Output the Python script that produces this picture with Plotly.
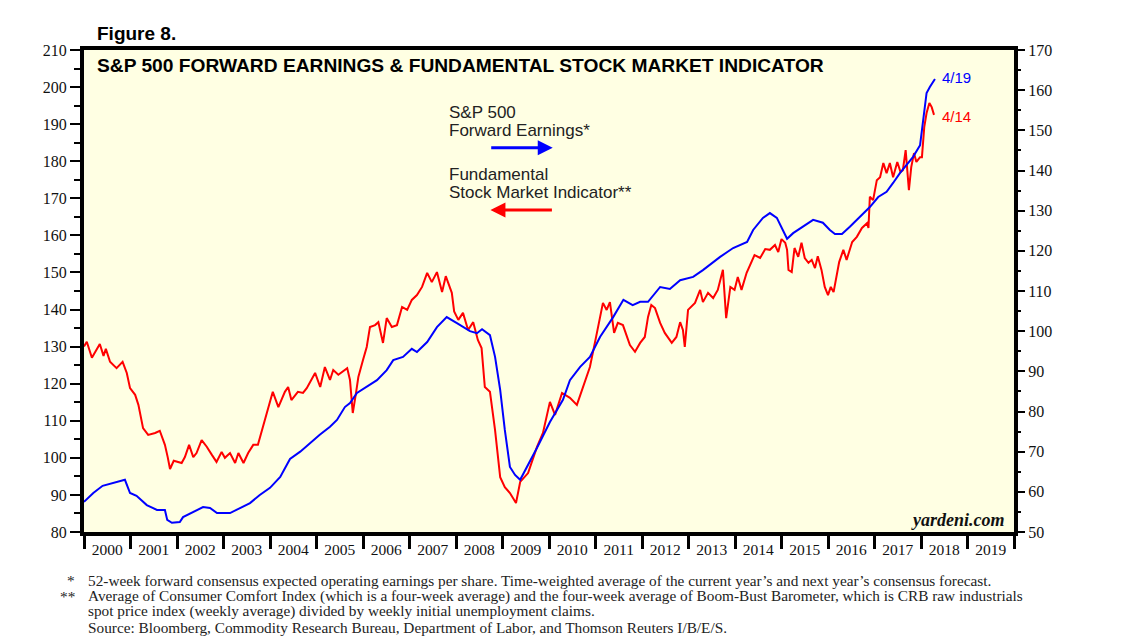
import plotly.graph_objects as go

# Fundamental Stock Market Indicator (left axis), decimal years
red_t = [2000.00, 2000.06, 2000.17, 2000.27, 2000.34, 2000.42, 2000.47, 2000.56, 2000.70, 2000.83,
         2000.92, 2000.99, 2001.10, 2001.17, 2001.27, 2001.38, 2001.53, 2001.63, 2001.74, 2001.80,
         2001.85, 2001.93, 2002.00, 2002.10, 2002.17, 2002.26, 2002.35, 2002.42, 2002.53, 2002.64,
         2002.75, 2002.85, 2002.96, 2003.03, 2003.14, 2003.25, 2003.32, 2003.43, 2003.53, 2003.64,
         2003.74, 2003.85, 2003.96, 2004.06, 2004.18, 2004.32, 2004.39, 2004.46, 2004.60, 2004.71,
         2004.79, 2004.90, 2004.97, 2005.08, 2005.18, 2005.29, 2005.36, 2005.47, 2005.61, 2005.66,
         2005.72, 2005.78, 2005.85, 2005.90, 2006.00, 2006.08, 2006.15, 2006.26, 2006.33, 2006.43,
         2006.51, 2006.62, 2006.73, 2006.84, 2006.95, 2007.05, 2007.16, 2007.27, 2007.38, 2007.48,
         2007.59, 2007.70, 2007.78, 2007.91, 2007.96, 2008.05, 2008.15, 2008.26, 2008.37, 2008.47,
         2008.55, 2008.62, 2008.73, 2008.84, 2008.95, 2009.05, 2009.16, 2009.29, 2009.38, 2009.55,
         2009.74, 2009.87, 2010.02, 2010.13, 2010.28, 2010.45, 2010.60, 2010.73, 2010.88, 2011.03,
         2011.16, 2011.24, 2011.31, 2011.40, 2011.48, 2011.59, 2011.74, 2011.85, 2011.96, 2012.06,
         2012.13, 2012.20, 2012.28, 2012.39, 2012.49, 2012.64, 2012.74, 2012.82, 2012.88, 2012.92,
         2012.99, 2013.14, 2013.25, 2013.31, 2013.42, 2013.53, 2013.63, 2013.74, 2013.81, 2013.90,
         2013.99, 2014.06, 2014.14, 2014.25, 2014.35, 2014.42, 2014.54, 2014.65, 2014.75, 2014.86,
         2014.93, 2015.00, 2015.08, 2015.12, 2015.15, 2015.22, 2015.28, 2015.36, 2015.43, 2015.50,
         2015.58, 2015.65, 2015.72, 2015.78, 2015.86, 2015.93, 2016.00, 2016.06, 2016.12, 2016.19,
         2016.24, 2016.33, 2016.40, 2016.52, 2016.62, 2016.73, 2016.84, 2016.87, 2016.90, 2016.97,
         2017.05, 2017.12, 2017.19, 2017.26, 2017.33, 2017.40, 2017.49, 2017.56, 2017.61, 2017.67,
         2017.71, 2017.74, 2017.79, 2017.85, 2017.90, 2017.98, 2018.02, 2018.07, 2018.12, 2018.18,
         2018.23, 2018.28]
red_v = [130.0, 131.3, 127.0, 129.1, 130.7, 127.5, 129.4, 125.9, 124.2, 125.9,
         122.9, 118.8, 117.0, 114.3, 108.0, 106.2, 106.7, 107.3, 103.5, 100.2,
         97.0, 99.2, 98.9, 98.6, 100.2, 103.5, 100.2, 101.3, 104.8, 103.0,
         100.8, 98.9, 101.6, 100.0, 101.3, 98.6, 101.3, 98.6, 101.3, 103.5,
         103.5, 108.3, 112.9, 117.8, 113.7, 117.8, 119.1, 115.6, 117.8, 117.5,
         118.8, 121.5, 122.9, 119.1, 124.5, 121.0, 123.7, 122.4, 123.7, 124.2,
         121.0, 112.1, 117.5, 121.8, 126.4, 129.9, 135.3, 135.8, 136.6, 131.0,
         137.7, 135.3, 135.8, 140.7, 139.9, 142.6, 143.9, 146.1, 149.9, 147.4,
         150.1, 144.7, 149.0, 144.5, 139.5, 137.2, 139.1, 134.5, 136.6, 131.8,
         129.6, 119.1, 117.8, 107.5, 94.8, 92.1, 90.5, 87.8, 93.5, 95.9,
         102.9, 106.7, 115.1, 111.6, 117.5, 116.2, 114.3, 119.1, 124.5, 133.7,
         141.8, 139.9, 142.0, 133.7, 136.4, 135.8, 130.4, 128.6, 131.0, 132.6,
         138.0, 141.2, 140.4, 136.4, 133.7, 131.0, 132.6, 136.6, 134.5, 129.9,
         139.9, 141.8, 145.3, 142.0, 144.5, 143.1, 145.3, 150.7, 137.7, 146.1,
         145.3, 148.8, 145.3, 149.9, 152.6, 154.7, 153.9, 156.3, 156.1, 157.4,
         155.5, 159.0, 158.0, 156.1, 150.7, 150.1, 156.6, 154.2, 158.0, 153.9,
         152.6, 153.4, 151.2, 154.4, 150.7, 146.1, 143.9, 146.1, 144.7, 149.3,
         152.8, 156.1, 153.4, 158.2, 159.6, 162.0, 163.3, 162.0, 170.4, 169.5,
         174.9, 175.7, 179.5, 176.8, 179.5, 175.7, 179.8, 177.1, 177.6, 183.0,
         177.6, 172.2, 178.4, 182.2, 179.8, 181.1, 181.1, 189.2, 193.0, 195.7,
         194.6, 192.5]

# S&P 500 forward earnings (right axis)
blue_t = [2000.00, 2000.20, 2000.40, 2000.62, 2000.88, 2000.99, 2001.13, 2001.35, 2001.57, 2001.74,
          2001.79, 2001.89, 2002.06, 2002.13, 2002.35, 2002.56, 2002.71, 2002.86, 2003.14, 2003.35,
          2003.57, 2003.78, 2004.00, 2004.22, 2004.43, 2004.65, 2004.86, 2005.07, 2005.29, 2005.44,
          2005.61, 2005.72, 2005.87, 2006.15, 2006.30, 2006.51, 2006.65, 2006.86, 2007.05, 2007.16,
          2007.38, 2007.59, 2007.80, 2008.02, 2008.15, 2008.30,
          2008.45, 2008.56, 2008.73, 2008.84, 2008.95, 2009.05, 2009.16, 2009.27, 2009.38, 2009.53,
          2009.74, 2010.02, 2010.30, 2010.45, 2010.67, 2010.88, 2011.10, 2011.38, 2011.60, 2011.80,
          2011.96, 2012.13, 2012.39, 2012.60, 2012.82, 2013.10, 2013.31, 2013.68, 2013.96, 2014.26,
          2014.39, 2014.60, 2014.75, 2014.90, 2015.00, 2015.12, 2015.25, 2015.46, 2015.68, 2015.89,
          2016.04, 2016.15, 2016.30, 2016.47, 2016.69, 2016.90, 2017.08, 2017.26, 2017.40, 2017.55,
          2017.69, 2017.83, 2017.98, 2018.05, 2018.12, 2018.19, 2018.30]
blue_v = [57.5, 59.7, 61.5, 62.2, 63.0, 59.7, 59.0, 56.7, 55.5, 55.5,
          53.0, 52.3, 52.5, 53.7, 55.0, 56.2, 56.0, 54.7, 54.7, 56.0,
          57.2, 59.2, 61.0, 63.7, 68.2, 70.0, 72.2, 74.2, 76.2, 77.9,
          81.1, 82.1, 84.6, 86.6, 87.8, 90.3, 92.8, 93.6, 95.6, 94.8,
          97.3, 101.0, 103.5, 102.0, 101.0, 100.0,
          99.5, 100.5, 99.0, 93.6, 85.4, 75.4, 66.2, 64.2, 63.0, 66.2,
          70.9, 77.4, 82.9, 87.8, 91.1, 93.6, 98.6, 103.5, 107.8, 106.5,
          107.3, 107.3, 111.0, 110.5, 112.7, 113.5, 115.2, 118.5, 120.7, 122.2,
          125.2, 128.2, 129.4, 128.2, 126.0, 123.0, 124.4, 126.0, 127.7, 127.0,
          125.2, 124.2, 124.2, 126.0, 128.4, 130.9, 133.4, 134.7, 136.9, 139.4,
          141.4, 143.4, 146.3, 153.3, 159.3, 160.8, 162.8]

years = list(range(2000, 2020))
year_labels = [str(y) for y in years]

footnotes = [
    "52-week forward consensus expected operating earnings per share. Time-weighted average of the "
    "current year\u2019s and next year\u2019s consensus forecast.",
    "Average of Consumer Comfort Index (which is a four-week average) and the four-week average of "
    "Boom-Bust Barometer, which is CRB raw industrials",
    "spot price index (weekly average) divided by weekly initial unemployment claims.",
    "Source: Bloomberg, Commodity Research Bureau, Department of Labor, and Thomson Reuters I/B/E/S.",
]
foot_marks = ["*", "**", "", ""]

serif = "Times New Roman, Liberation Serif, serif"
sans = "Arial, Liberation Sans, sans-serif"

fig = go.Figure()
fig.add_trace(go.Scatter(x=red_t, y=red_v, mode="lines", line=dict(color="#ff0000", width=2),
                         yaxis="y", showlegend=False))
fig.add_trace(go.Scatter(x=blue_t, y=blue_v, mode="lines", line=dict(color="#0000ff", width=2),
                         yaxis="y2", showlegend=False))

fig.update_layout(
    width=1130, height=630,
    margin=dict(l=76, r=124, t=42, b=106),
    paper_bgcolor="white",
    plot_bgcolor="#ffffe3",
    showlegend=False,
    xaxis=dict(range=[2000, 2020], showgrid=False, zeroline=False,
               showline=True, linewidth=4, linecolor="black", mirror=True,
               tickmode="array", tickvals=[y + 0.5 for y in years], ticktext=year_labels,
               ticks="", tickfont=dict(family=serif, size=15.5, color="#111"),
               minor=dict(tickmode="array", tickvals=list(range(2000, 2021)), ticks="outside",
                          ticklen=13, tickwidth=3, tickcolor="black", showgrid=False)),
    yaxis=dict(range=[80, 210], showgrid=False, zeroline=False,
               showline=True, linewidth=4, linecolor="black", mirror=True,
               tickmode="linear", tick0=80, dtick=10, ticks="outside", ticklen=10,
               tickwidth=1.5, tickcolor="black",
               tickfont=dict(family=serif, size=16, color="#111"),
               minor=dict(dtick=5, ticks="outside", ticklen=6, tickwidth=1.5, tickcolor="black")),
    yaxis2=dict(range=[50, 170], overlaying="y", side="right", showgrid=False, zeroline=False,
                showline=False,
                tickmode="linear", tick0=50, dtick=10, ticks="outside", ticklen=10,
                tickwidth=1.5, tickcolor="black",
                tickfont=dict(family=serif, size=16, color="#111"),
                minor=dict(dtick=5, ticks="outside", ticklen=6, tickwidth=1.5, tickcolor="black")),
)

ann = [
    dict(text="<b>Figure 8.</b>", x=0.012, y=1.035, xanchor="left",
         font=dict(family=sans, size=19, color="black")),
    dict(text="<b>S&amp;P 500 FORWARD EARNINGS &amp; FUNDAMENTAL STOCK MARKET INDICATOR</b>",
         x=0.012, y=0.967, xanchor="left",
         font=dict(family=sans, size=19.2, color="black")),
    dict(text="S&amp;P 500", x=0.39, y=0.871, xanchor="left",
         font=dict(family=sans, size=17, color="#222")),
    dict(text="Forward Earnings*", x=0.39, y=0.834, xanchor="left",
         font=dict(family=sans, size=17, color="#222")),
    dict(text="Fundamental", x=0.39, y=0.741, xanchor="left",
         font=dict(family=sans, size=17, color="#222")),
    dict(text="Stock Market Indicator**", x=0.39, y=0.704, xanchor="left",
         font=dict(family=sans, size=17, color="#222")),
    dict(text="4/19", x=0.92, y=0.942, xanchor="left",
         font=dict(family=sans, size=15, color="#0000ff")),
    dict(text="4/14", x=0.92, y=0.863, xanchor="left",
         font=dict(family=sans, size=15, color="#ff0000")),
    dict(text="<b><i>yardeni.com</i></b>", x=0.992, y=0.025, xanchor="right",
         font=dict(family=serif, size=18, color="#111")),
]
foot_y = [-0.0996, -0.1328, -0.1639, -0.1971]
for mark, line, fy in zip(foot_marks, footnotes, foot_y):
    if mark:
        ann.append(dict(text=mark, x=-0.007, y=fy, xanchor="right",
                        font=dict(family=serif, size=15.3, color="#222")))
    ann.append(dict(text=line, x=0.002, y=fy, xanchor="left",
                    font=dict(family=serif, size=15.3, color="#222")))
for a in ann:
    a.update(xref="paper", yref="paper", yanchor="middle", showarrow=False)
    fig.add_annotation(**a)

# direction arrows
fig.add_annotation(x=0.504, y=0.797, xref="paper", yref="paper", ax=-63, ay=0, text="",
                   showarrow=True, arrowhead=2, arrowsize=1, arrowwidth=3, arrowcolor="#0000ff")
fig.add_annotation(x=0.437, y=0.668, xref="paper", yref="paper", ax=63, ay=0, text="",
                   showarrow=True, arrowhead=2, arrowsize=1, arrowwidth=3, arrowcolor="#ff0000")

fig.write_html("out.html")
